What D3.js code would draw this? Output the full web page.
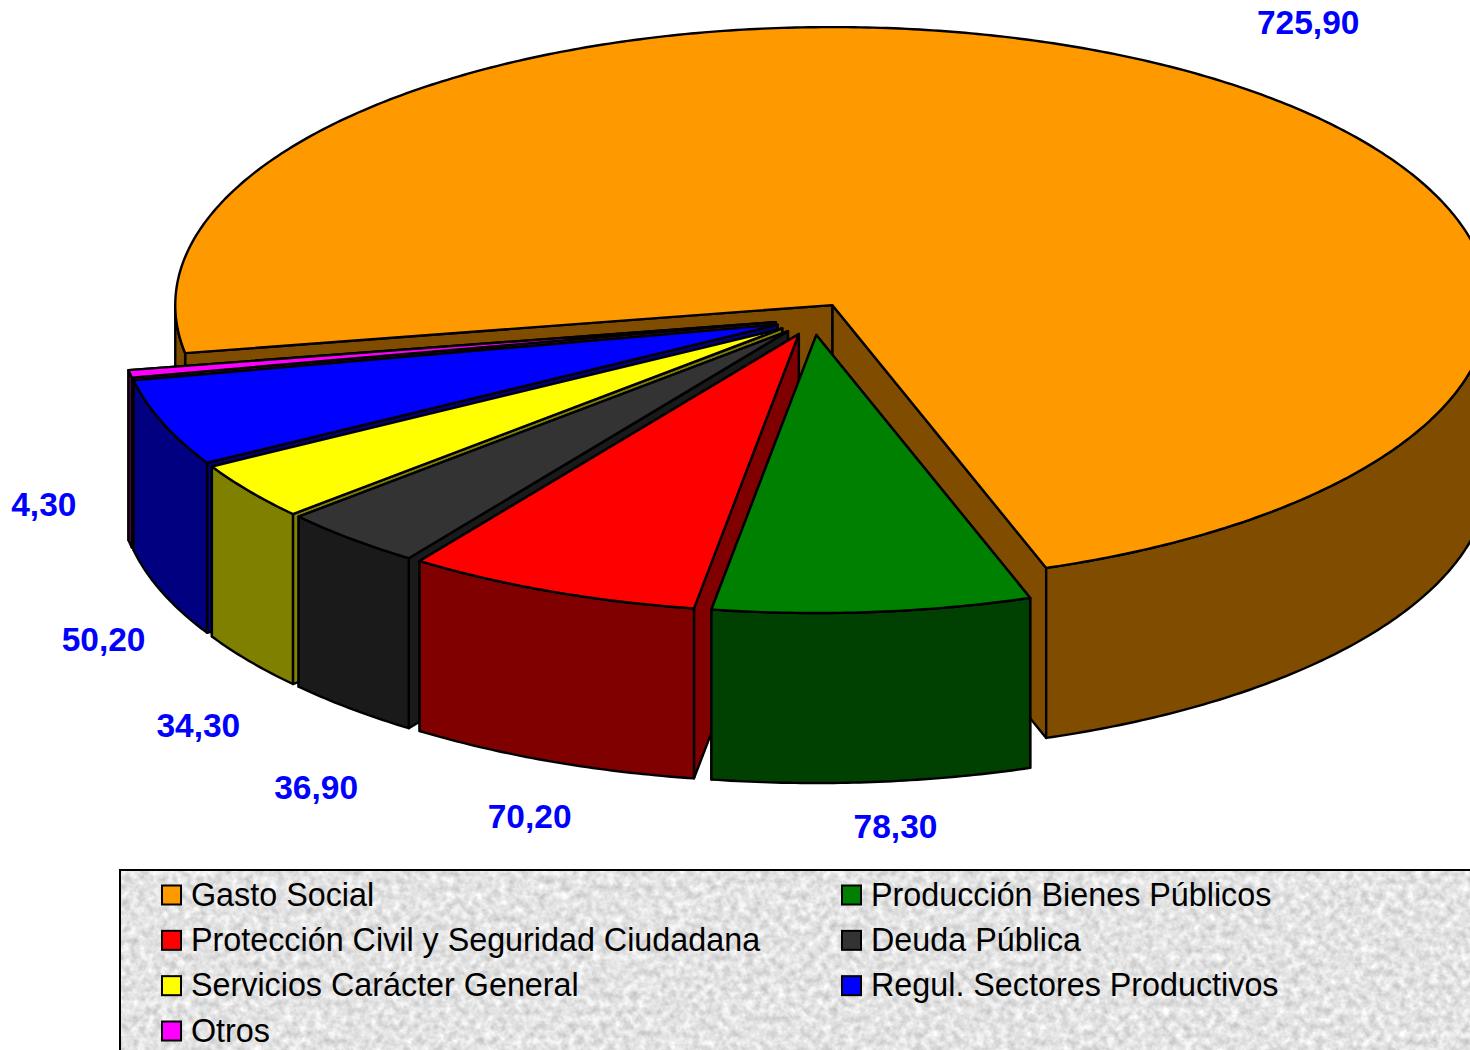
<!DOCTYPE html>
<html>
<head>
<meta charset="utf-8">
<script src="https://cdn.jsdelivr.net/npm/d3@7"></script>
<style>
  html, body { margin: 0; padding: 0; background: #fff; overflow: hidden; }
  svg { display: block; font-family: "Liberation Sans", Arial, sans-serif; }
  .face { stroke: #000; stroke-width: 2.4; stroke-linejoin: round; }
  .value-label { fill: #0000ff; font-size: 33.5px; font-weight: bold; }
  .legend-label { fill: #000; font-size: 32.3px; }
</style>
</head>
<body>
<svg id="chart" width="1470" height="1050"></svg>
<script>
const categories = [
  'Gasto Social',
  'Producción Bienes Públicos',
  'Protección Civil y Seguridad Ciudadana',
  'Deuda Pública',
  'Servicios Carácter General',
  'Regul. Sectores Productivos',
  'Otros',
];
const values = [725.9, 78.3, 70.2, 36.9, 34.3, 50.2, 4.3];
const colors = ['#ff9900', '#008000', '#ff0000', '#333333', '#ffff00', '#0000ff', '#ff00ff'];

// label nudges from the outer middle of each slice
const labelOffsets = [[144, -43], [23, 44], [-25, 54], [-40, 76], [-53, 63], [-60, 45], [-87, -42]];

const center = { x: 813, y: 319 };
const rx = 657;
const ry = 278;
const depth = 170;
const explode = 0.058;
const firstAngle = 259.7 * Math.PI / 180;
const drawOrder = [0, 6, 5, 4, 3, 2, 1];

const svg = d3.select('#chart');
const defs = svg.append('defs');

const granite = defs.append('filter')
  .attr('id', 'granite')
  .attr('color-interpolation-filters', 'sRGB')
  .attr('x', 0).attr('y', 0).attr('width', 1).attr('height', 1);
granite.append('feTurbulence')
  .attr('type', 'fractalNoise')
  .attr('baseFrequency', 0.13)
  .attr('numOctaves', 4)
  .attr('seed', 7);
granite.append('feColorMatrix')
  .attr('type', 'matrix')
  .attr('values', '0.32 0 0 0 0.73  0.32 0 0 0 0.73  0.32 0 0 0 0.73  0 0 0 0 1');

const pie = d3.pie()
  .sort(null)
  .startAngle(firstAngle)
  .endAngle(firstAngle + 2 * Math.PI);

const arcs = pie(values);

// the 3d projection stretches the lower left a little, so the pie angles get warped
const deg = Math.PI / 180;
const warp = d3.scaleLinear()
  .domain([
    arcs[0].startAngle,
    arcs[0].endAngle,
    arcs[2].startAngle,
    arcs[3].startAngle,
    arcs[4].startAngle,
    arcs[5].startAngle,
    arcs[6].endAngle,
  ])
  .range([
    arcs[0].startAngle + 0.35 * deg,
    arcs[0].endAngle,
    arcs[2].startAngle,
    arcs[3].startAngle + 0.8 * deg,
    arcs[4].startAngle + 0.4 * deg,
    arcs[5].startAngle + 0.15 * deg,
    arcs[6].endAngle + 0.35 * deg,
  ]);

const half = (c) => {
  const rgb = d3.rgb(c);
  return d3.rgb(rgb.r / 2, rgb.g / 2, rgb.b / 2).formatHex();
};

const apexOf = (d) => {
  const mid = (d.startAngle + d.endAngle) / 2;
  return {
    x: center.x + explode * rx * Math.sin(mid),
    y: center.y - explode * ry * Math.cos(mid),
  };
};

const rim = (apex, a, dy = 0) => [
  apex.x + rx * Math.sin(a),
  apex.y - ry * Math.cos(a) + dy,
];

const sweep = (apex, a0, a1, dy = 0) => {
  const n = Math.max(2, Math.ceil((a1 - a0) / 0.01));
  return d3.range(n + 1).map((i) => rim(apex, a0 + (a1 - a0) * i / n, dy));
};

const line = d3.line();

// the wall only shows on the front half of the ellipse
const frontRanges = (a0, a1) => {
  const ranges = [];
  for (let k = 0; k < 3; k += 1) {
    const from = Math.PI / 2 + k * 2 * Math.PI;
    const lo = Math.max(a0, from);
    const hi = Math.min(a1, from + Math.PI);
    if (hi > lo) ranges.push([lo, hi]);
  }
  return ranges;
};

const slices = svg.append('g')
  .selectAll('g')
  .data(drawOrder.map((i) => ({ arc: arcs[i], color: colors[i] })))
  .join('g');

slices.each(function (s) {
  const g = d3.select(this);
  const apex = apexOf(s.arc);
  const wall = half(s.color);
  const a0 = warp(s.arc.startAngle);
  const a1 = warp(s.arc.endAngle);

  // end face first, the start face is the one that can be seen
  [a1, a0].forEach((a) => {
    const p = rim(apex, a);
    g.append('path')
      .attr('class', 'face')
      .attr('fill', wall)
      .attr('d', `${line([[apex.x, apex.y], p, [p[0], p[1] + depth], [apex.x, apex.y + depth]])}Z`);
  });

  frontRanges(a0, a1).forEach(([lo, hi]) => {
    const pts = sweep(apex, lo, hi).concat(sweep(apex, lo, hi, depth).reverse());
    g.append('path')
      .attr('class', 'face')
      .attr('fill', wall)
      .attr('d', `${line(pts)}Z`);
  });

  g.append('path')
    .attr('class', 'face')
    .attr('fill', s.color)
    .attr('d', `${line([[apex.x, apex.y], ...sweep(apex, a0, a1)])}Z`);
});

const format = (v) => v.toFixed(2).replace('.', ',');

svg.append('g')
  .selectAll('text')
  .data(arcs)
  .join('text')
  .attr('class', 'value-label')
  .attr('text-anchor', 'middle')
  .attr('dy', '0.36em')
  .attr('x', (d, i) => rim(apexOf(d), (d.startAngle + d.endAngle) / 2)[0] + labelOffsets[i][0])
  .attr('y', (d, i) => {
    const mid = (d.startAngle + d.endAngle) / 2;
    const wallDrop = Math.cos(mid) < 0 ? depth : 0;
    return rim(apexOf(d), mid, wallDrop)[1] + labelOffsets[i][1];
  })
  .text((d) => format(d.data));

// legend
const legend = svg.append('g');

legend.append('rect')
  .attr('x', 120)
  .attr('y', 870)
  .attr('width', 1400)
  .attr('height', 220)
  .attr('filter', 'url(#granite)');

legend.append('rect')
  .attr('x', 120)
  .attr('y', 870)
  .attr('width', 1400)
  .attr('height', 220)
  .attr('fill', 'none')
  .attr('stroke', '#000')
  .attr('stroke-width', 2);

const rows = d3.scaleLinear().domain([0, 3]).range([895, 1031]);
const cols = d3.scaleOrdinal().domain([0, 1]).range([162, 842]);

const items = legend.selectAll('g.item')
  .data(categories)
  .join('g')
  .attr('class', 'item')
  .attr('transform', (d, i) => `translate(${cols(i % 2)},${rows(Math.floor(i / 2))})`);

items.append('rect')
  .attr('y', -9.5)
  .attr('width', 19)
  .attr('height', 19)
  .attr('fill', (d, i) => colors[i])
  .attr('stroke', '#000')
  .attr('stroke-width', 2);

items.append('text')
  .attr('class', 'legend-label')
  .attr('x', 29)
  .attr('dy', '0.33em')
  .text((d) => d);
</script>
</body>
</html>
